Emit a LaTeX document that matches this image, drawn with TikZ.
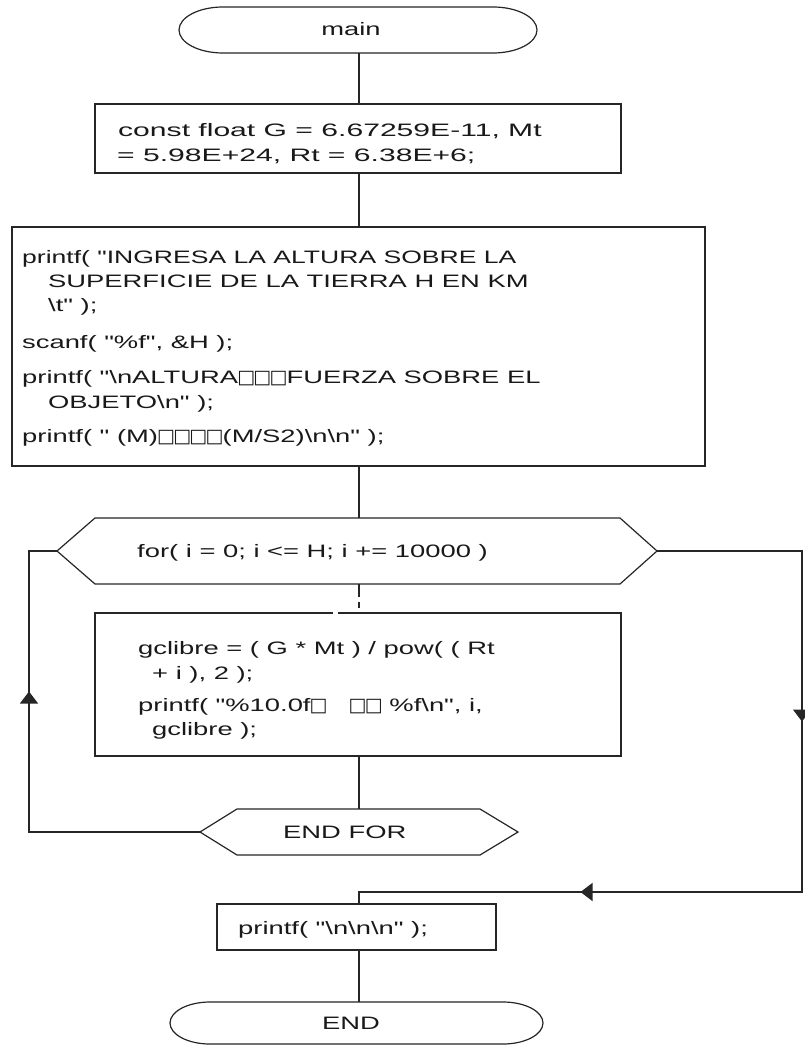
\documentclass[tikz,border=0pt]{standalone}
\usepackage{fontspec}
\usepackage{graphicx}
\setmainfont{Liberation Sans}[FakeStretch=1.52, Ligatures=TeXOff]
\newfontfamily\symf{DejaVu Sans}
\usetikzlibrary{arrows.meta,decorations.markings}
\newcommand\bx{{\fontsize{19}{19}\selectfont\symf\kern-0.9pt□\kern-0.9pt}}
\newcommand\bsl{\textbackslash}
\begin{document}
\begin{tikzpicture}[x=1pt,y=-1pt,
  ln/.style={line width=1.2pt, draw=black!85},
  shp/.style={inner sep=0pt, outer sep=0pt},
  txt/.style={inner sep=0pt, anchor=base west, text=black!90, font=\fontsize{18}{24}\selectfont},
  txtc/.style={inner sep=0pt, anchor=base, text=black!90, font=\fontsize{18}{24}\selectfont},
  midarr/.style={postaction={decorate}, decoration={markings, mark=at position #1 with {\arrow{Triangle[length=12pt,width=18pt]}}}},
]
\useasboundingbox (0,0) rectangle (804,1046);
\fill[white] (0,0) rectangle (804,1046);

% ---- shapes ----
\node[shp, minimum width=358pt, minimum height=46pt] (main) at (358,30) {};
\draw[ln] ([xshift=44pt]main.north west) -- ([xshift=-44pt]main.north east)
  arc[start angle=90, end angle=-90, x radius=44pt, y radius=23pt]
  -- ([xshift=44pt]main.south west)
  arc[start angle=270, end angle=90, x radius=44pt, y radius=23pt] -- cycle;

\node[shp, draw, ln, minimum width=526pt, minimum height=69pt] (const) at (358,138.5) {};
\node[shp, draw, ln, minimum width=693pt, minimum height=239pt] (io) at (358.5,346.5) {};

\node[shp, minimum width=600pt, minimum height=66pt] (for) at (357,551) {};
\draw[ln] (for.west) -- ([xshift=38pt]for.north west) -- ([xshift=-37pt]for.north east)
  -- (for.east) -- ([xshift=-37pt]for.south east) -- ([xshift=38pt]for.south west) -- cycle;

\node[shp, draw, ln, minimum width=526pt, minimum height=143pt] (body) at (358,684.5) {};

\node[shp, minimum width=318pt, minimum height=46pt] (endfor) at (359,832) {};
\draw[ln] (endfor.west) -- ([xshift=37pt]endfor.north west) -- ([xshift=-38pt]endfor.north east)
  -- (endfor.east) -- ([xshift=-38pt]endfor.south east) -- ([xshift=37pt]endfor.south west) -- cycle;

\node[shp, draw, ln, minimum width=279pt, minimum height=46pt] (pr) at (356.5,927) {};

\node[shp, minimum width=373pt, minimum height=42pt] (end) at (356.5,1023) {};
\draw[ln] ([xshift=40pt]end.north west) -- ([xshift=-40pt]end.north east)
  arc[start angle=90, end angle=-90, x radius=40pt, y radius=21pt]
  -- ([xshift=40pt]end.south west)
  arc[start angle=270, end angle=90, x radius=40pt, y radius=21pt] -- cycle;

% ---- connectors ----
\coordinate (ax) at (359,0);
\draw[ln] (ax |- main.south) -- (ax |- const.north);
\draw[ln] (ax |- const.south) -- (ax |- io.north);
\draw[ln] (ax |- io.south) -- (ax |- for.north);
\draw[ln] (ax |- for.south) -- ++(0,13);
\draw[ln] (359,602) -- (359,608);
\fill[white] (333,610) rectangle (338,616);
\draw[ln] (ax |- body.south) -- (ax |- endfor.north);

\coordinate (lt) at (29,551);
\coordinate (lb) at (29,832);
\draw[ln] (endfor.west) -- (lb) -- (lt) -- (for.west);
\draw[ln, midarr=0.5] (lb) -- (lt);

\coordinate (rt) at (802,551);
\coordinate (rb) at (802,892);
\coordinate (pj) at (359,892);
\draw[ln] (for.east) -- (rt) -- (rb) -- (pj) -- (pj |- pr.north);
\draw[ln, midarr=0.5] (rt) -- (rb);
\draw[ln, midarr=0.5] (rb) -- (pj);
\draw[ln] (ax |- pr.south) -- (ax |- end.north);

% ---- texts ----
\node[txtc] (mainT) at (351,36) {main};
\node[txt] (c1) at (118,136) {\scalebox{1.1}[1]{const float G = 6.67259E-11, Mt}};
\node[txt] (c2) at (117,161) {\scalebox{1.1}[1]{= 5.98E+24, Rt = 6.38E+6;}};

\node[txt] (i1) at (22,263) {\scalebox{0.97}[1]{printf( "INGRESA LA ALTURA SOBRE LA}};
\node[txt] (i2) at (48,287) {SUPERFICIE DE LA TIERRA H EN KM};
\node[txt] (i3) at (48,311) {\bsl t" );};
\node[txt] (i4) at (22,348) {scanf( "\%f", \&H );};
\node[txt] (i5) at (22,383) {printf( "\bsl nALTURA\bx\bx\bx FUERZA SOBRE EL};
\node[txt] (i6) at (48,408) {OBJETO\bsl n" );};
\node[txt] (i7) at (22,442) {printf( " (M)\bx\bx\bx\bx(M/S2)\bsl n\bsl n" );};

\node[txt] (f1) at (137,557) {for( i = 0; i <= H; i += 10000 )};

\node[txt] (b1) at (138,654) {gclibre = ( G * Mt ) / pow( ( Rt};
\node[txt] (b2) at (152,679) {+ i ), 2 );};
\node[txt] (b3) at (138,711) {printf( "\%10.0f\bx\ \ \ \bx\bx\ \%f\bsl n", i,};
\node[txt] (b4) at (152,735) {gclibre );};

\node[txt] (e1) at (283,838) {END FOR};
\node[txt] (p1) at (238,934) {printf( "\bsl n\bsl n\bsl n" );};
\node[txtc] (endT) at (351,1029) {END};
\end{tikzpicture}
\end{document}
